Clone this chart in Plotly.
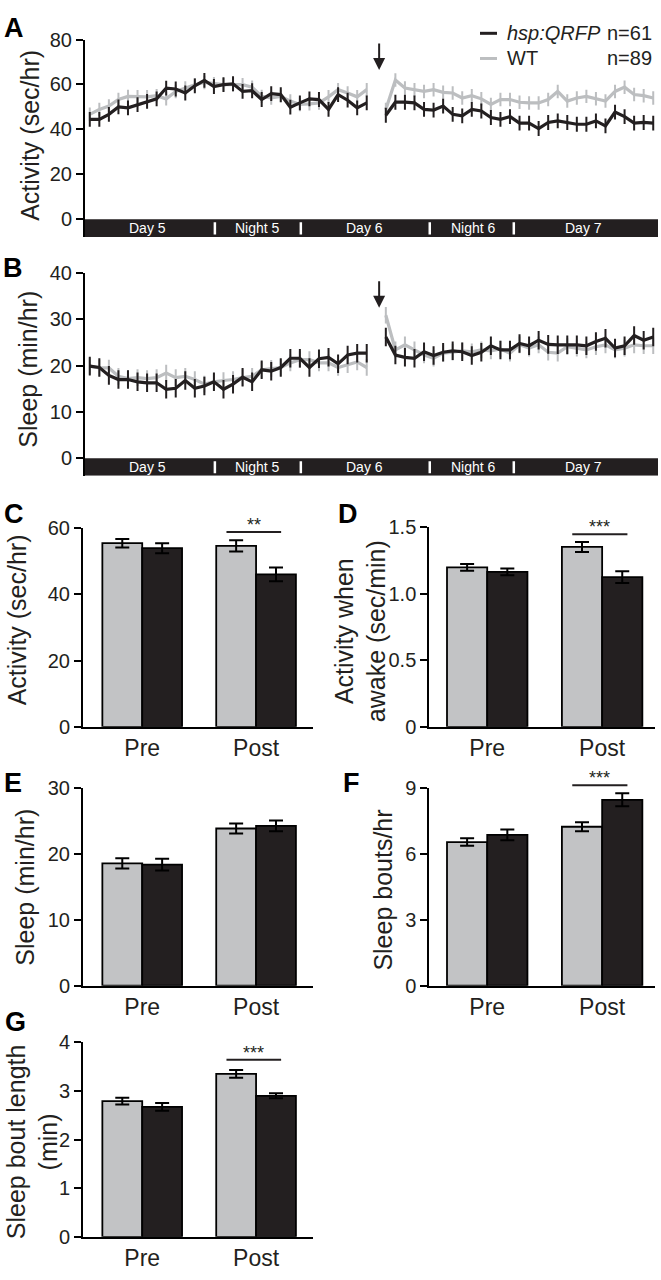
import plotly.graph_objects as go

W, H = 661, 1280
FONT = "Liberation Sans, Arial, Helvetica, sans-serif"
BLACK = "#231f20"
GRAY_LINE = "#bcbec0"
GRAY_BAR = "#c2c3c5"

# ---------------- time-course data (A: activity, B: sleep) ----------------
hours_pre = [0.5 + i for i in range(30)]
hours_post = [31.5 + i for i in range(29)]

act_qrfp_pre = [44.5, 44.5, 46.7, 50.0, 49.6, 51.0, 52.5, 53.6, 58.4, 58.0,
                56.2, 59.4, 61.8, 59.1, 59.9, 60.3, 56.9, 57.2, 53.3, 55.9,
                55.5, 49.9, 51.8, 53.6, 53.3, 48.9, 55.5, 53.0, 49.6, 51.8]
act_wt_pre = [46.7, 48.9, 50.4, 53.3, 54.7, 54.5, 54.5, 55.0, 53.6, 56.9,
              58.4, 59.9, 60.9, 60.3, 59.9, 59.9, 59.9, 58.8, 54.7, 54.0,
              54.7, 52.6, 51.1, 51.4, 51.8, 54.5, 57.7, 56.2, 54.5, 57.7]
act_qrfp_post = [46.3, 52.1, 52.1, 51.8, 48.9, 48.6, 50.4, 46.7, 46.0, 48.9,
                 48.2, 45.3, 44.5, 45.7, 42.8, 42.8, 40.4, 43.1, 43.8, 43.1,
                 42.3, 42.3, 43.8, 41.6, 47.7, 45.7, 42.8, 43.1, 42.8]
act_wt_post = [48.9, 62.0, 58.4, 57.7, 56.9, 57.7, 56.5, 56.2, 54.0, 55.0,
               53.6, 51.1, 53.3, 53.3, 52.1, 51.8, 51.8, 53.3, 56.9, 52.6,
               54.0, 54.7, 53.6, 52.6, 56.9, 58.8, 55.5, 55.0, 54.0]
act_err_qrfp = 3.3
act_err_wt = 3.0

slp_qrfp_pre = [19.9, 19.6, 17.9, 17.0, 17.0, 16.5, 16.3, 16.3, 14.9, 15.1,
                16.8, 15.1, 15.6, 16.5, 14.9, 16.0, 17.5, 16.5, 19.1, 18.8,
                19.6, 21.6, 21.6, 19.6, 21.5, 21.8, 20.4, 22.3, 22.7, 22.7]
slp_wt_pre = [19.9, 19.5, 19.5, 17.7, 17.2, 17.4, 17.2, 17.4, 18.4, 17.4,
              17.7, 17.0, 16.0, 16.5, 16.8, 17.0, 17.4, 17.7, 19.1, 19.4,
              19.6, 20.6, 21.3, 21.3, 20.6, 20.6, 19.6, 20.2, 20.8, 19.6]
slp_qrfp_post = [26.2, 22.3, 21.8, 21.6, 23.0, 22.2, 22.9, 23.2, 23.0, 22.2,
                 22.9, 24.3, 23.4, 23.4, 24.8, 24.3, 25.5, 24.6, 24.5, 24.5,
                 24.5, 24.3, 25.2, 25.9, 23.8, 24.3, 26.5, 25.5, 26.2]
slp_wt_post = [30.9, 23.4, 24.5, 23.4, 22.3, 21.6, 22.7, 22.9, 23.2, 23.0,
               23.4, 23.2, 23.6, 22.7, 24.5, 23.8, 24.5, 22.9, 22.7, 24.1,
               23.8, 23.4, 24.1, 24.5, 23.4, 23.8, 24.5, 24.3, 24.3]
slp_err_qrfp = 2.0
slp_err_wt = 1.8

heat_shock_hour = 30.8
period_labels = ["Day 5", "Night 5", "Day 6", "Night 6", "Day 7"]
period_centers = [6.5, 18.1, 29.3, 40.7, 52.2]
period_bounds = [13.6, 22.6, 36.1, 44.9]
time_end = 60

# ---------------- bar data ----------------
categories = ["Pre", "Post"]
cat_pos = [0, 1]

C_wt, C_wt_err = [55.4, 54.6], [1.3, 1.7]
C_tg, C_tg_err = [53.9, 46.0], [1.5, 2.1]
D_wt, D_wt_err = [1.197, 1.35], [0.025, 0.037]
D_tg, D_tg_err = [1.163, 1.124], [0.025, 0.044]
E_wt, E_wt_err = [18.6, 23.9], [0.77, 0.75]
E_tg, E_tg_err = [18.4, 24.3], [0.9, 0.8]
F_wt, F_wt_err = [6.55, 7.25], [0.17, 0.2]
F_tg, F_tg_err = [6.88, 8.48], [0.25, 0.3]
G_wt, G_wt_err = [2.79, 3.35], [0.07, 0.08]
G_tg, G_tg_err = [2.67, 2.90], [0.08, 0.05]


def px_x(p):
    return p / W


def px_y(p):
    return 1 - p / H


fig = go.Figure()

# ---------------- axes layout ----------------
A_ymin, B_ymin = -7.87, -3.82
layout_axes = {}
tc_xdom = [px_x(85), px_x(658)]
layout_axes["xaxis"] = dict(domain=tc_xdom, range=[0, time_end], anchor="y",
                            showline=False, showticklabels=False, ticks="",
                            showgrid=False, zeroline=False)
layout_axes["yaxis"] = dict(domain=[px_y(230), px_y(29)], range=[A_ymin, 80], anchor="x",
                            tickvals=[0, 20, 40, 60, 80])
layout_axes["xaxis2"] = dict(domain=tc_xdom, range=[0, time_end], anchor="y2",
                             showline=False, showticklabels=False, ticks="",
                             showgrid=False, zeroline=False)
layout_axes["yaxis2"] = dict(domain=[px_y(473), px_y(266.7)], range=[B_ymin, 40], anchor="x2",
                             tickvals=[0, 10, 20, 30, 40])
for k in ("yaxis", "yaxis2"):
    layout_axes[k].update(showline=True, linewidth=2, linecolor="black", ticks="outside",
                          ticklen=7, tickwidth=2, tickcolor="black", showgrid=False,
                          zeroline=False, tickfont=dict(size=20, color=BLACK, family=FONT))

left_x = [px_x(83), px_x(313)]
right_x = [px_x(429.3), px_x(655)]
left_rng = [-0.52, 1.5]
right_rng = [-0.504, 1.46]
bar_panels = {
    3: dict(xd=left_x, xr=left_rng, yd=[px_y(728.3), px_y(526)], ymax=60, tv=[0, 20, 40, 60], tt=None),
    4: dict(xd=right_x, xr=right_rng, yd=[px_y(728.3), px_y(525)], ymax=1.5, tv=[0, 0.5, 1.0, 1.5], tt=["0", "0.5", "1.0", "1.5"]),
    5: dict(xd=left_x, xr=left_rng, yd=[px_y(991.7), px_y(791)], ymax=30, tv=[0, 10, 20, 30], tt=None),
    6: dict(xd=right_x, xr=right_rng, yd=[px_y(991.7), px_y(791)], ymax=9, tv=[0, 3, 6, 9], tt=None),
    7: dict(xd=left_x, xr=left_rng, yd=[px_y(1247.3), px_y(1049.3)], ymax=4, tv=[0, 1, 2, 3, 4], tt=None),
}
for i, p in bar_panels.items():
    layout_axes[f"xaxis{i}"] = dict(domain=p["xd"], range=p["xr"], anchor=f"y{i}",
                                    showline=True, linewidth=2, linecolor="black", ticks="",
                                    tickvals=cat_pos, ticktext=categories, showgrid=False,
                                    zeroline=False, tickfont=dict(size=23, color=BLACK, family=FONT))
    yax = dict(domain=p["yd"], range=[0, p["ymax"]], anchor=f"x{i}", showline=True,
               linewidth=2, linecolor="black", ticks="outside", ticklen=7, tickwidth=2,
               tickcolor="black", tickvals=p["tv"], showgrid=False, zeroline=False,
               tickfont=dict(size=20, color=BLACK, family=FONT))
    if p["tt"]:
        yax["ticktext"] = p["tt"]
    layout_axes[f"yaxis{i}"] = yax

# ---------------- time-course traces ----------------
def add_line(x, y, err, color, xa, ya):
    fig.add_trace(go.Scatter(
        x=x, y=y, mode="lines", xaxis=xa, yaxis=ya, showlegend=False,
        line=dict(color=color, width=3.2),
        error_y=dict(type="constant", value=err, color=color, thickness=2, width=0)))

for xa, ya, wt_pre, wt_post, tg_pre, tg_post, e_wt, e_tg in [
        ("x", "y", act_wt_pre, act_wt_post, act_qrfp_pre, act_qrfp_post, act_err_wt, act_err_qrfp),
        ("x2", "y2", slp_wt_pre, slp_wt_post, slp_qrfp_pre, slp_qrfp_post, slp_err_wt, slp_err_qrfp)]:
    add_line(hours_pre, wt_pre, e_wt, GRAY_LINE, xa, ya)
    add_line(hours_post, wt_post, e_wt, GRAY_LINE, xa, ya)
    add_line(hours_pre, tg_pre, e_tg, BLACK, xa, ya)
    add_line(hours_post, tg_post, e_tg, BLACK, xa, ya)

# ---------------- bar traces ----------------
bar_data = {3: (C_wt, C_wt_err, C_tg, C_tg_err), 4: (D_wt, D_wt_err, D_tg, D_tg_err),
            5: (E_wt, E_wt_err, E_tg, E_tg_err), 6: (F_wt, F_wt_err, F_tg, F_tg_err),
            7: (G_wt, G_wt_err, G_tg, G_tg_err)}
for i, (wt, wte, tg, tge) in bar_data.items():
    for vals, errs, col in [(wt, wte, GRAY_BAR), (tg, tge, BLACK)]:
        fig.add_trace(go.Bar(
            x=cat_pos, y=vals, xaxis=f"x{i}", yaxis=f"y{i}", showlegend=False,
            marker=dict(color=col, line=dict(color="black", width=1.8)),
            error_y=dict(type="data", array=errs, color="black", thickness=2, width=7)))

shapes = []
annotations = []

# day/night bars
for xa, ya, ymin in [("x", "y", A_ymin), ("x2", "y2", B_ymin)]:
    shapes.append(dict(type="rect", xref=xa, yref=ya, x0=0, x1=time_end, y0=ymin, y1=0,
                       fillcolor=BLACK, line=dict(width=0), layer="above"))
    for b in period_bounds:
        shapes.append(dict(type="line", xref=xa, yref=ya, x0=b, x1=b, y0=ymin * 0.85,
                           y1=ymin * 0.17, line=dict(color="white", width=2.5), layer="above"))
    for lab, c in zip(period_labels, period_centers):
        annotations.append(dict(xref=xa, yref=ya, x=c, y=ymin / 2, text=lab, showarrow=False,
                                font=dict(size=14, color="white", family=FONT),
                                xanchor="center", yanchor="middle"))

# heat-shock arrows
for xa, ya, ytip in [("x", "y", 66.4), ("x2", "y2", 32.5)]:
    annotations.append(dict(xref=xa, yref=ya, x=heat_shock_hour, y=ytip, ax=0, ay=-28,
                            text="", showarrow=True, arrowhead=2, arrowsize=1.2,
                            arrowwidth=2, arrowcolor=BLACK))

# significance marks
sig = {3: ("**", 58.8), 4: ("***", 1.446), 6: ("***", 9.14), 7: ("***", 3.64)}
for i, (txt, yv) in sig.items():
    ymax = bar_panels[i]["ymax"]
    shapes.append(dict(type="line", xref=f"x{i}", yref=f"y{i} domain", x0=0.74, x1=1.22,
                       y0=yv / ymax, y1=yv / ymax, line=dict(color=BLACK, width=2)))
    annotations.append(dict(xref=f"x{i}", yref=f"y{i} domain", x=0.98, y=yv / ymax,
                            text=txt, showarrow=False, yanchor="bottom", xanchor="center",
                            yshift=-5, font=dict(size=18, color=BLACK, family=FONT)))

# legend
for ypx, col, name, n in [(22.7, BLACK, "<i>hsp:QRFP</i>", "n=61"), (48.3, GRAY_LINE, "WT", "n=89")]:
    shapes.append(dict(type="line", xref="paper", yref="paper", x0=px_x(480), x1=px_x(497),
                       y0=px_y(ypx), y1=px_y(ypx), line=dict(color=col, width=3)))
    annotations.append(dict(xref="paper", yref="paper", x=px_x(505), y=px_y(ypx), text=name,
                            showarrow=False, xanchor="left", yanchor="middle",
                            font=dict(size=20, color=BLACK, family=FONT)))
    annotations.append(dict(xref="paper", yref="paper", x=px_x(654), y=px_y(ypx), text=n,
                            showarrow=False, xanchor="right", yanchor="middle",
                            font=dict(size=20, color=BLACK, family=FONT)))

# panel letters
for lab, xp, yp in [("A", 14, 17), ("B", 13, 262), ("C", 14, 512), ("D", 348, 512),
                    ("E", 13, 786), ("F", 351, 786), ("G", 15, 1029)]:
    annotations.append(dict(xref="paper", yref="paper", x=px_x(xp), y=px_y(yp), text=f"<b>{lab}</b>",
                            showarrow=False, xanchor="center", yanchor="middle",
                            font=dict(size=27, color="black", family=FONT)))

# y-axis titles
for txt, xp, yp in [("Activity (sec/hr)", 30, 127), ("Sleep (min/hr)", 28, 365),
                    ("Activity (sec/hr)", 17, 620), ("Activity when<br>awake (sec/min)", 360, 631),
                    ("Sleep (min/hr)", 25, 892), ("Sleep bouts/hr", 383, 895),
                    ("Sleep bout length<br>(min)", 32, 1151)]:
    annotations.append(dict(xref="paper", yref="paper", x=px_x(xp), y=px_y(yp), text=txt,
                            textangle=-90, showarrow=False, xanchor="center", yanchor="middle",
                            font=dict(size=25, color=BLACK, family=FONT)))

fig.update_layout(
    width=W, height=H, autosize=False, margin=dict(l=0, r=0, t=0, b=0),
    paper_bgcolor="white", plot_bgcolor="white", barmode="group", bargap=0.3, bargroupgap=0,
    font=dict(family=FONT, color=BLACK), shapes=shapes, annotations=annotations,
    **layout_axes)

fig.write_html("out.html", config={"displayModeBar": False},
               post_script="document.body.style.margin='0px';document.body.style.overflow='hidden';")
